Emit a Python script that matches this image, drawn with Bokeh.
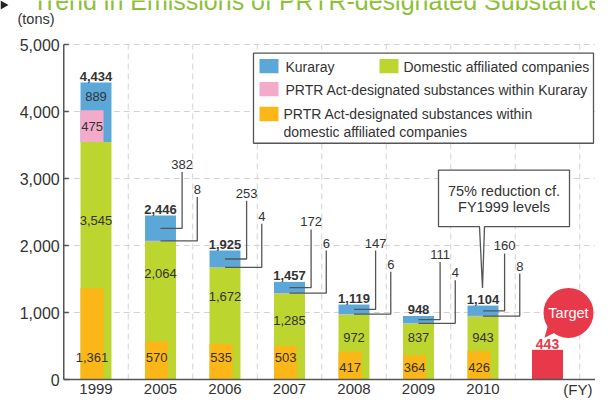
from bokeh.plotting import figure
from bokeh.models import Range1d, ColumnDataSource, Grid
from bokeh.core.properties import value
from bokeh.embed import file_html
from bokeh.resources import INLINE

# ---------------- data ----------------
years = ["1999", "2005", "2006", "2007", "2008", "2009", "2010"]
kuraray = [889, 382, 253, 172, 147, 111, 160]
prtr_kuraray = [475, 8, 4, 6, 6, 4, 8]
domestic = [3545, 2064, 1672, 1285, 972, 837, 943]
prtr_domestic = [1361, 570, 535, 503, 417, 364, 426]
totals = [4434, 2446, 1925, 1457, 1119, 948, 1104]
target_value = 443
y_ticks = [0, 1000, 2000, 3000, 4000, 5000]

# label layout (value level where annotation texts sit)
green_label_y = [2368, 1581, 1237, 880, 620, 620, 620]
orange_label_y = [322, 322, 322, 322, 175, 175, 175]
blue_leader_top = [None, 3097, 2668, 2239, 1924, 1753, 1881]
pink_leader_top = [None, 2725, 2325, 1924, 1609, 1481, 1581]

# ---------------- style ----------------
BLUE = "#5ba8d8"
GREEN = "#bdd62f"
PINK = "#f3aacb"
ORANGE = "#fbb617"
RED = "#e8394a"
TEXT = "#333333"
AXIS = "#555555"
GRIDC = "#d6d2d2"
TITLE_GREEN = "#8dbf3a"
FONT = "Liberation Sans"

W, H = 595, 398
X0 = 63.25      # canvas x of slot 0
SLOT = 64.5
Y0 = 379.0      # canvas y of value 0
Y5K = 44.0      # canvas y of value 5000
K = 5000.0 / (Y0 - Y5K)   # values per pixel


def cx(c):  # canvas x -> data x
    return (c - X0) / SLOT


def cy(c):  # canvas y -> data y
    return (Y0 - c) * K


def RX(xr):  # reference x -> data x
    return (xr - 63.25) / 64.5


def RY(yr):  # reference y -> data value
    return (393.5 - yr) * 5000.0 / 349.5


p = figure(width=W, height=H, x_range=Range1d(cx(0), cx(W)), y_range=Range1d(cy(H), cy(0)),
           output_backend="svg", toolbar_location=None, title=None,
           x_axis_location=None, y_axis_location=None, min_border=0)
p.min_border_left = 0
p.min_border_right = 0
p.min_border_top = 0
p.min_border_bottom = 0
p.outline_line_color = None
p.background_fill_color = "white"
p.border_fill_color = "white"
p.center = [r for r in p.center if not isinstance(r, Grid)]

n = len(years)
xc = [i + 0.5 for i in range(n)]
BW = 0.48
IW = 0.357
xi = [c - BW / 2 + IW / 2 for c in xc]
x_right = cx(W)


def add_text(xs, ys, texts, size="13px", color=TEXT, align="center", style="normal"):
    s = ColumnDataSource(dict(x=list(xs), y=list(ys), t=list(texts)))
    p.text(x="x", y="y", text="t", source=s, text_font=value(FONT), text_font_size=size,
           text_color=color, text_align=align, text_baseline="middle", text_font_style=style)


# grid lines (dashed)
gy = [t for t in y_ticks if t > 0]
p.segment(x0=[0] * len(gy), x1=[x_right] * len(gy), y0=gy, y1=gy,
          line_color=GRIDC, line_dash="6 4", line_width=1)
bounds_x = [i for i in range(1, n + 2)]
p.segment(x0=bounds_x, x1=bounds_x, y0=[0] * len(bounds_x), y1=[5000] * len(bounds_x),
          line_color=GRIDC, line_dash="6 4", line_width=1)

# bars
src = ColumnDataSource(dict(
    x=xc, xi=xi,
    dom=domestic,
    tot=[d + k for d, k in zip(domestic, kuraray)],
    pk_top=[d + pk for d, pk in zip(domestic, prtr_kuraray)],
    pd=prtr_domestic,
))
p.vbar(x="x", width=BW, bottom=0, top="dom", source=src, fill_color=GREEN, line_color=None)
p.vbar(x="x", width=BW, bottom="dom", top="tot", source=src, fill_color=BLUE, line_color=None)
p.vbar(x="xi", width=IW, bottom="dom", top="pk_top", source=src, fill_color=PINK, line_color=None)
p.vbar(x="xi", width=IW, bottom=0, top="pd", source=src, fill_color=ORANGE, line_color=None)
p.vbar(x=[n + 0.5], width=BW, bottom=0, top=[target_value], fill_color=RED, line_color=None)

# axes (y axis line + inward ticks, baseline)
p.segment(x0=[0], x1=[0], y0=[0], y1=[y_ticks[-1]], line_color=AXIS, line_width=1.5)
p.segment(x0=[0] * len(y_ticks), x1=[5 / SLOT] * len(y_ticks), y0=y_ticks, y1=y_ticks,
          line_color=AXIS, line_width=1.5)
p.segment(x0=[0], x1=[x_right], y0=[0], y1=[0], line_color=AXIS, line_width=1.5)
add_text([-4 / SLOT] * len(y_ticks), y_ticks, [f"{t:,}" for t in y_ticks], size="16px",
         align="right")
add_text(xc, [cy(388.5)] * n, years, size="15px")
add_text([cx(592)], [cy(388.5)], ["(FY)"], size="15px", align="right")

# leader lines
lxs, lys = [], []
bx, by, bt = [], [], []
for i in range(1, n):
    x0 = xc[i]
    xb = x0 + 0.335
    xp = x0 + 0.57
    bm = domestic[i] + kuraray[i] / 2
    pm = domestic[i] + prtr_kuraray[i] / 2
    lxs += [[x0, xb, xb], [x0, xp, xp]]
    lys += [[bm, bm, blue_leader_top[i]], [pm, pm, pink_leader_top[i]]]
    bx += [xb, xp]
    by += [blue_leader_top[i] + 7.5 * K, pink_leader_top[i] + 7.5 * K]
    bt += [f"{kuraray[i]:,}", f"{prtr_kuraray[i]:,}"]
p.multi_line(xs=lxs, ys=lys, line_color=AXIS, line_width=1.3)
add_text(bx, by, bt)

# values inside bars
add_text(xc, green_label_y, [f"{v:,}" for v in domestic])
add_text(xi, orange_label_y, [f"{v:,}" for v in prtr_domestic])
add_text([xc[0]], [domestic[0] + prtr_kuraray[0] + (kuraray[0] - prtr_kuraray[0]) / 2], [f"{kuraray[0]:,}"])
add_text([xi[0]], [domestic[0] + prtr_kuraray[0] / 2], [f"{prtr_kuraray[0]:,}"])
add_text(xc, [t + 6 * K for t in totals], [f"{t:,}" for t in totals], style="bold")

# callout box
call_pts = [(438, 175), (569, 175), (569, 234), (484, 234), (482, 298), (479, 234), (438, 234)]
p.patch(x=[RX(a) for a, b in call_pts], y=[RY(b) for a, b in call_pts],
        fill_color="white", line_color=AXIS, line_width=1.3)
add_text([RX(503.5), RX(503.5)], [RY(197), RY(214)], ["75% reduction cf.", "FY1999 levels"], size="14.5px")

# target bubble
tail = [(548, 335), (559, 342), (544, 350)]
p.patch(x=[RX(a) for a, b in tail], y=[RY(b) for a, b in tail], fill_color=RED, line_color=None)
p.scatter(x=[RX(568)], y=[RY(324)], size=50, marker="circle", fill_color=RED, line_color=None)
add_text([RX(568)], [RY(324)], ["Target"], size="14.5px", color="white")
add_text([n + 0.5], [target_value + 6 * K], [f"{target_value:,}"], size="14px", color=RED, style="bold")

# legend (drawn)
p.quad(left=[RX(253)], right=[cx(593)], top=[RY(53)], bottom=[RY(147)],
       fill_color="white", line_color=AXIS, line_width=1.3)
sw = [(259, 59, BLUE), (379, 59, GREEN), (259, 83, PINK), (259, 109, ORANGE)]
p.quad(left=[RX(a) for a, b, c in sw], right=[RX(a + 19) for a, b, c in sw],
       top=[RY(b) for a, b, c in sw], bottom=[RY(b + 15) for a, b, c in sw],
       fill_color=[c for a, b, c in sw], line_color=None)
leg_x = [285, 403, 285, 283, 283]
leg_y = [67, 67, 91, 117, 135]
leg_t = ["Kuraray", "Domestic affiliated companies", "PRTR Act-designated substances within Kuraray",
         "PRTR Act-designated substances within", "domestic affiliated companies"]
add_text([RX(v) for v in leg_x], [RY(v) for v in leg_y], leg_t, size="14px", align="left")

# title (cut at the top edge, as in the original) and unit
tri = [(0, 0), (0, 9), (8, 4.5)]
p.patch(x=[cx(a) for a, b in tri], y=[cy(b) for a, b in tri], fill_color="#222222", line_color=None)
add_text([cx(32)], [cy(0)], ["Trend in Emissions of PRTR-designated Substances"], size="25px",
         color=TITLE_GREEN, align="left")
add_text([cx(17)], [cy(18)], ["(tons)"], size="14.5px", align="left")

open("out.html", "w").write(file_html(p, INLINE))
